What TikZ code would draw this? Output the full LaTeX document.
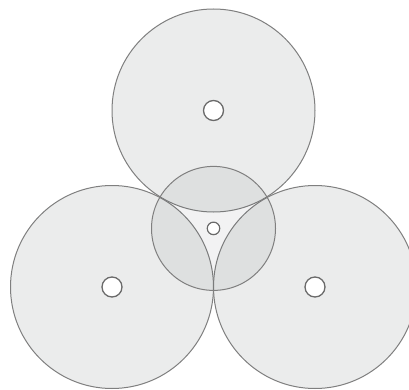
\documentclass[tikz,border=0pt]{standalone}
\usepackage{tikz}
\definecolor{discfill}{HTML}{EBECEC}
\definecolor{discline}{HTML}{7F7F7F}
\definecolor{holeline}{HTML}{6A6A6A}
\definecolor{hubtint}{HTML}{404850}
\tikzset{
  bigdisc/.style={circle, draw=discline, fill=discfill, line width=1pt, minimum size=203pt, inner sep=0pt, outer sep=0pt},
  hubdisc/.style={circle, draw=discline, fill=hubtint, fill opacity=0.07, draw opacity=1, line width=1pt, minimum size=124pt, inner sep=0pt, outer sep=0pt},
  hole/.style={circle, draw=holeline, fill=white, line width=1.3pt, minimum size=20pt, inner sep=0pt},
  smallhole/.style={circle, draw=holeline, fill=white, line width=1.2pt, minimum size=12.5pt, inner sep=0pt}
}
\begin{document}
\begin{tikzpicture}[x=1pt,y=1pt]
\useasboundingbox (0,0) rectangle (409,389);
\clip (0,0) rectangle (409,389);
\coordinate (c) at (213.5,160.6);
\node[bigdisc] (top) at (213.5,278.5) {};
\node[bigdisc] (left) at (112,102) {};
\node[bigdisc] (right) at (315,102) {};
\node[hubdisc] (hub) at (c) {};
\node[hole] (tophole) at (top.center) {};
\node[hole] (lefthole) at (left.center) {};
\node[hole] (righthole) at (right.center) {};
\node[smallhole] (hubhole) at (hub.center) {};
\end{tikzpicture}
\end{document}
